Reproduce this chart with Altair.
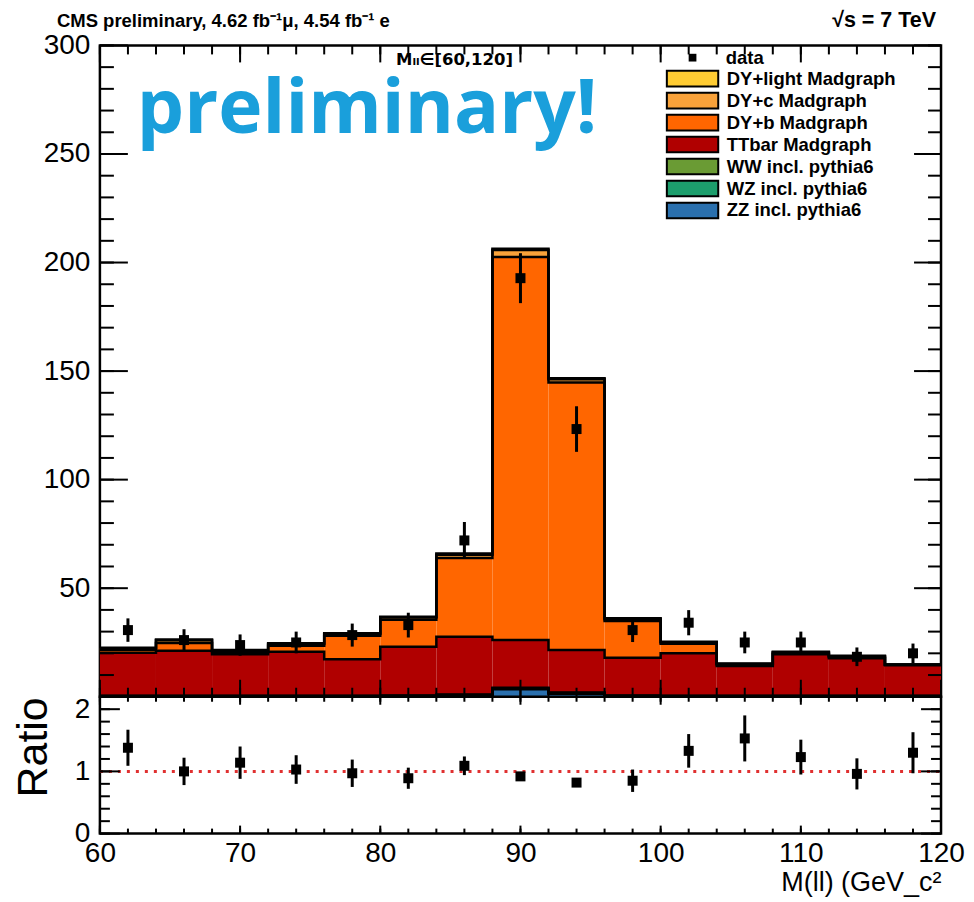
import altair as alt
import pandas as pd

# ---------------- data ----------------
bin_lo = [60, 64, 68, 72, 76, 80, 84, 88, 92, 96, 100, 104, 108, 112, 116]
bin_hi = [64, 68, 72, 76, 80, 84, 88, 92, 96, 100, 104, 108, 112, 116, 120]
bin_center = [62, 66, 70, 74, 78, 82, 86, 90, 94, 98, 102, 106, 110, 114, 118]

processes = ["DY+light Madgraph", "DY+c Madgraph", "DY+b Madgraph", "TTbar Madgraph",
             "WW incl. pythia6", "WZ incl. pythia6", "ZZ incl. pythia6"]
colors = ["#FFCC33", "#F9A23A", "#FF6600", "#B00000", "#6A9B34", "#1C9E6C", "#2A70AE"]

zz = [0.2, 0.2, 0.2, 0.2, 0.2, 0.3, 0.6, 3.4, 1.4, 0.3, 0.2, 0.2, 0.2, 0.2, 0.2]
wz = [0.1, 0.1, 0.1, 0.1, 0.1, 0.1, 0.2, 0.5, 0.3, 0.1, 0.1, 0.1, 0.1, 0.1, 0.1]
ww = [0.2, 0.2, 0.2, 0.2, 0.2, 0.2, 0.2, 0.3, 0.2, 0.2, 0.2, 0.2, 0.2, 0.2, 0.2]
ttbar = [19.8, 20.7, 19.1, 20.2, 16.8, 22.4, 26.6, 21.9, 19.6, 17.4, 19.5, 13.7, 19.1, 17.2, 14.0]
dy_b = [1.4, 3.6, 1.0, 2.8, 10.8, 12.5, 36.3, 176.5, 123.2, 16.9, 4.4, 0.6, 0.5, 0.6, 0.2]
dy_c = [0.6, 1.2, 0.6, 0.8, 0.8, 1.0, 1.5, 3.2, 1.5, 0.8, 0.6, 0.3, 0.4, 0.4, 0.1]
dy_light = [0.3, 0.4, 0.3, 0.3, 0.3, 0.4, 0.6, 0.5, 0.5, 0.4, 0.3, 0.2, 0.2, 0.2, 0.1]

data_val = [30.7, 26.1, 23.8, 25.0, 28.4, 33.0, 72.0, 192.8, 123.3, 30.7, 34.1, 25.0, 25.0, 18.4, 20.0]
data_err = [5.4, 5.0, 4.9, 5.0, 5.3, 5.7, 8.5, 11.5, 10.5, 5.5, 5.8, 5.0, 5.0, 4.3, 4.5]

ratio_val = [1.38, 1.00, 1.14, 1.03, 0.97, 0.89, 1.09, 0.92, 0.82, 0.85, 1.33, 1.53, 1.23, 0.96, 1.30]
ratio_err = [0.29, 0.22, 0.26, 0.23, 0.22, 0.17, 0.15, 0.06, 0.05, 0.18, 0.27, 0.37, 0.28, 0.25, 0.33]

x_major = [60, 70, 80, 90, 100, 110, 120]
x_minor = list(range(60, 121, 2))
y_major = [0, 50, 100, 150, 200, 250, 300]
y_minor = list(range(0, 301, 10))
r_major = [0, 1, 2]
r_minor = [round(0.2 * i, 1) for i in range(12)]

# ---------------- tables ----------------
contrib = {
    "ZZ incl. pythia6": zz, "WZ incl. pythia6": wz, "WW incl. pythia6": ww,
    "TTbar Madgraph": ttbar, "DY+b Madgraph": dy_b, "DY+c Madgraph": dy_c,
    "DY+light Madgraph": dy_light,
}
stack_order = ["ZZ incl. pythia6", "WZ incl. pythia6", "WW incl. pythia6", "TTbar Madgraph",
               "DY+b Madgraph", "DY+c Madgraph", "DY+light Madgraph"]
rect_rows, step_rows = [], []
cum = [0.0] * len(bin_lo)
for name in stack_order:
    vals = contrib[name]
    for i in range(len(bin_lo)):
        y0 = cum[i]
        y1 = cum[i] + vals[i]
        rect_rows.append({"process": name, "lo": bin_lo[i], "hi": bin_hi[i], "y0": y0, "y1": y1})
        step_rows.append({"process": name, "edge": bin_lo[i], "top": y1})
        cum[i] = y1
    step_rows.append({"process": name, "edge": bin_hi[-1], "top": cum[-1]})
rect_df = pd.DataFrame(rect_rows)
step_df = pd.DataFrame(step_rows)

pts_df = pd.DataFrame({"x": bin_center, "v": data_val, "e": data_err, "label": ["data"] * len(bin_center)})
pts_df["lo"] = pts_df["v"] - pts_df["e"]
pts_df["hi"] = pts_df["v"] + pts_df["e"]

rat_df = pd.DataFrame({"x": bin_center, "v": ratio_val, "e": ratio_err})
rat_df["lo"] = rat_df["v"] - rat_df["e"]
rat_df["hi"] = rat_df["v"] + rat_df["e"]

one_df = pd.DataFrame({"x0": [60], "x1": [120], "y": [1.0]})

# ---------------- helpers ----------------
FONT = "Liberation Sans"
W, H_UP, H_LO = 842, 652, 137
X_DOM, YU_DOM, YL_DOM = (60.0, 120.0), (0.0, 300.0), (0.0, 2.2)

xs = alt.Scale(domain=list(X_DOM), nice=False, zero=False)
ys_up = alt.Scale(domain=list(YU_DOM), nice=False)
ys_lo = alt.Scale(domain=list(YL_DOM), nice=False)

label_kw = dict(labels=True, labelFont=FONT, labelFontSize=28, labelColor="black",
                labelFlush=False, labelOverlap=False, ticks=False, domain=False, grid=False)


def tick_marks(values, side, size, ydom, height):
    """Inward ROOT-style tick marks drawn as rules through the panel's scales."""
    yscale = alt.Scale(domain=list(ydom), nice=False)
    dx = size / W * (X_DOM[1] - X_DOM[0])
    dy = size / height * (ydom[1] - ydom[0])
    if side in ("bottom", "top"):
        a = ydom[0] if side == "bottom" else ydom[1] - dy
        df = pd.DataFrame({"v": values, "a": [a] * len(values), "b": [a + dy] * len(values)})
        return alt.Chart(df).mark_rule(color="black", strokeWidth=2).encode(
            x=alt.X("v:Q", scale=xs, axis=None),
            y=alt.Y("a:Q", scale=yscale, axis=None), y2="b:Q")
    a = X_DOM[0] if side == "left" else X_DOM[1] - dx
    df = pd.DataFrame({"v": values, "a": [a] * len(values), "b": [a + dx] * len(values)})
    return alt.Chart(df).mark_rule(color="black", strokeWidth=2).encode(
        y=alt.Y("v:Q", scale=yscale, axis=None),
        x=alt.X("a:Q", scale=xs, axis=None), x2="b:Q")


# ---------------- upper panel ----------------
fills = alt.Chart(rect_df).mark_rect().encode(
    x=alt.X("lo:Q", scale=xs, axis=None),
    x2="hi:Q",
    y=alt.Y("y0:Q", scale=ys_up,
            axis=alt.Axis(orient="left", values=y_major, labelPadding=10, title=None,
                          labelExpr="datum.value == 0 ? '' : datum.label", **label_kw)),
    y2="y1:Q",
    fill=alt.Fill("process:N", scale=alt.Scale(domain=processes, range=colors),
                  legend=alt.Legend(orient="none", legendX=584, legendY=24, title=None,
                                    symbolType="M-3.3,-1H3.3V1H-3.3Z", symbolSize=243,
                                    symbolStrokeColor="black", symbolStrokeWidth=2,
                                    symbolOpacity=1, labelFont=FONT, labelFontSize=18.5,
                                    labelFontWeight="bold", labelColor="black", labelLimit=400,
                                    labelOffset=25, rowPadding=-5, padding=0)),
)

steps = alt.Chart(step_df).mark_line(interpolate="step-after", color="black", strokeWidth=2.5).encode(
    x=alt.X("edge:Q", scale=xs, axis=None),
    y=alt.Y("top:Q", scale=ys_up, axis=None),
    detail="process:N",
)

points = alt.Chart(pts_df).mark_point(shape="square", filled=True, size=100, color="black", opacity=1).encode(
    x=alt.X("x:Q", scale=xs, axis=None),
    y=alt.Y("v:Q", scale=ys_up, axis=None),
    shape=alt.Shape("label:N", scale=alt.Scale(domain=["data"], range=["square"]),
                    legend=alt.Legend(orient="none", legendX=584, legendY=3, title=None,
                                      symbolFillColor="black", symbolStrokeColor="black",
                                      symbolSize=60, labelFont=FONT, labelFontSize=18.5,
                                      labelFontWeight="bold", labelColor="black",
                                      labelOffset=24, padding=0)),
)

errbars = alt.Chart(pts_df).mark_rule(color="black", strokeWidth=3).encode(
    x=alt.X("x:Q", scale=xs, axis=None),
    y=alt.Y("lo:Q", scale=ys_up, axis=None),
    y2="hi:Q",
)

cms_text = alt.Chart(pd.DataFrame({"t": ["CMS preliminary, 4.62 fb\u207b\u00b9\u03bc, 4.54 fb\u207b\u00b9 e"]})).mark_text(
    align="left", baseline="alphabetic", font=FONT, fontSize=18.5, fontWeight="bold", color="black"
).encode(x=alt.value(-43), y=alt.value(-18), text="t:N")

sqrt_text = alt.Chart(pd.DataFrame({"t": ["\u221as = 7 TeV"]})).mark_text(
    align="right", baseline="alphabetic", font=FONT, fontSize=21.5, fontWeight="bold", color="black"
).encode(x=alt.value(837), y=alt.value(-18), text="t:N")

range_text = alt.Chart(pd.DataFrame({"t": ["M\u2097\u2097\u2208[60,120]"]})).mark_text(
    align="center", baseline="alphabetic", font="DejaVu Sans", fontSize=16.5, fontWeight="bold", color="black"
).encode(x=alt.value(355), y=alt.value(20), text="t:N")

prelim_text = alt.Chart(pd.DataFrame({"t": ["preliminary!"]})).mark_text(
    align="left", baseline="alphabetic", font="Open Sans", fontSize=75, fontWeight="bold", color="#1A9FDB"
).encode(x=alt.value(37), y=alt.value(88), text="t:N")

upper_ticks = [
    tick_marks(x_major, "bottom", 17, YU_DOM, H_UP), tick_marks(x_minor, "bottom", 9, YU_DOM, H_UP),
    tick_marks(x_major, "top", 17, YU_DOM, H_UP), tick_marks(x_minor, "top", 9, YU_DOM, H_UP),
    tick_marks(y_major, "left", 28, YU_DOM, H_UP), tick_marks(y_minor, "left", 14, YU_DOM, H_UP),
    tick_marks(y_major, "right", 27, YU_DOM, H_UP), tick_marks(y_minor, "right", 13, YU_DOM, H_UP),
]

upper = alt.layer(fills, steps, *upper_ticks, errbars, points,
                  cms_text, sqrt_text, range_text, prelim_text).resolve_axis(
    x="independent", y="independent"
).properties(width=W, height=H_UP)

# ---------------- lower (ratio) panel ----------------
r_err = alt.Chart(rat_df).mark_rule(color="black", strokeWidth=3).encode(
    x=alt.X("x:Q", scale=xs,
            axis=alt.Axis(orient="bottom", values=x_major, labelPadding=6, title="M(ll) (GeV_c\u00b2",
                          titleFont=FONT, titleFontSize=27, titleFontWeight="normal",
                          titleColor="black", titleAlign="right", titleBaseline="alphabetic",
                          titleX=W, titleY=57, **label_kw)),
    y=alt.Y("lo:Q", scale=ys_lo,
            axis=alt.Axis(orient="left", values=r_major, labelPadding=10, title="Ratio",
                          titleFont=FONT, titleFontSize=43, titleFontWeight="normal",
                          titleColor="black", titleAngle=270, titleAlign="right",
                          titleBaseline="alphabetic", titleX=-53, titleY=0, **label_kw)),
    y2="hi:Q",
)

r_pts = alt.Chart(rat_df).mark_square(size=100, color="black", opacity=1).encode(
    x=alt.X("x:Q", scale=xs, axis=None),
    y=alt.Y("v:Q", scale=ys_lo, axis=None),
)

r_one = alt.Chart(one_df).mark_rule(color="#E03030", strokeWidth=3, strokeDash=[3, 6]).encode(
    x=alt.X("x0:Q", scale=xs, axis=None),
    x2="x1:Q",
    y=alt.Y("y:Q", scale=ys_lo, axis=None),
)

lower_ticks = [
    tick_marks(x_major, "bottom", 8, YL_DOM, H_LO), tick_marks(x_minor, "bottom", 5, YL_DOM, H_LO),
    tick_marks(x_major, "top", 8, YL_DOM, H_LO), tick_marks(x_minor, "top", 5, YL_DOM, H_LO),
    tick_marks(r_major, "left", 20, YL_DOM, H_LO), tick_marks(r_minor, "left", 10, YL_DOM, H_LO),
    tick_marks(r_major, "right", 20, YL_DOM, H_LO), tick_marks(r_minor, "right", 10, YL_DOM, H_LO),
]

lower = alt.layer(r_one, *lower_ticks, r_err, r_pts).resolve_axis(
    x="independent", y="independent"
).properties(width=W, height=H_LO)

chart = alt.vconcat(upper, lower, spacing=0, bounds="flush").properties(
    padding={"left": 3, "top": 0, "right": 0, "bottom": 0}
).configure_view(stroke="black", strokeWidth=2.5, fill="white")

chart.save("out.html", embed_options={"renderer": "svg", "actions": False})
